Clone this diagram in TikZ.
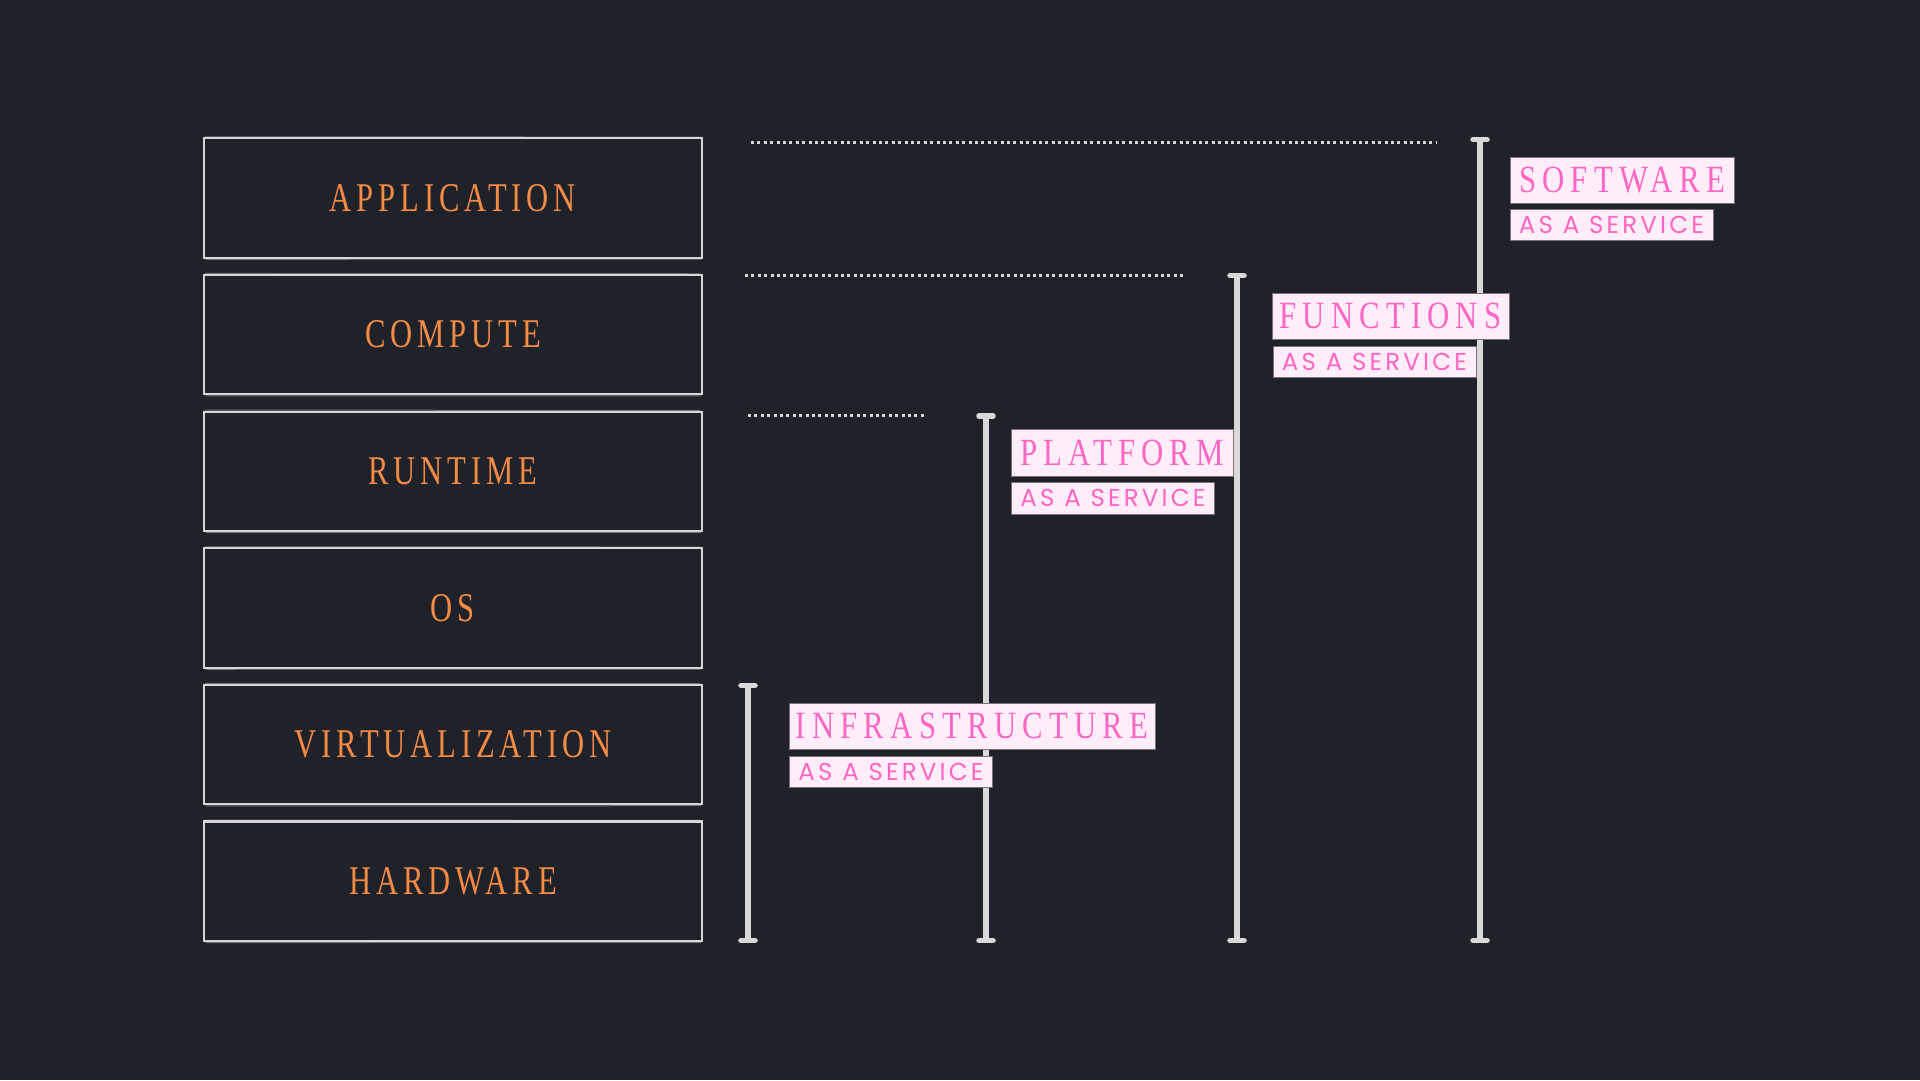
\documentclass[tikz,border=0pt]{standalone}
\usepackage{fontspec}
\newfontfamily\layerfont[FakeStretch=0.75,LetterSpace=12]{Liberation Serif}
\newfontfamily\labelfont[FakeStretch=0.8,LetterSpace=16]{Liberation Serif}
\newfontfamily\subfont[LetterSpace=13]{Poppins}
\definecolor{bg}{HTML}{202229}
\definecolor{layertext}{HTML}{F68B46}
\definecolor{sketch}{HTML}{D6D6D6}
\definecolor{barcol}{HTML}{D9D9D9}
\definecolor{pinktext}{HTML}{FF66C4}
\definecolor{pinkfill}{HTML}{FFEEF9}
\definecolor{pinkborder}{HTML}{7A707C}
\tikzset{
  layer/.style={minimum width=498pt, minimum height=119pt, inner sep=0pt,
    text=layertext, font=\layerfont\fontsize{40.8}{41}\selectfont},
  sketchline/.style={draw=sketch, line width=2.2pt},
  sketchfaint/.style={draw=sketch, line width=1pt, opacity=0.45},
  mainlabel/.style={fill=pinkfill, draw=pinkborder, line width=0.9pt, inner sep=0pt,
    minimum height=46pt, text=pinktext, font=\labelfont\fontsize{38.5}{39}\selectfont},
  sublabel/.style={fill=pinkfill, draw=pinkborder, line width=0.9pt, inner sep=0pt,
    minimum height=31pt, minimum width=203pt, text=pinktext, font=\subfont\fontsize{24.5}{25}\selectfont},
  stem/.style={draw=barcol, line width=5.5pt},
  barcap/.style={draw=barcol, line width=5.5pt, line cap=round},
  dots/.style={draw=barcol, line width=3pt, dash pattern=on 3pt off 3.4pt}
}
\begin{document}
\begin{tikzpicture}[x=1pt,y=-1pt]
\fill[bg] (0,0) rectangle (1920,1080);
\useasboundingbox (0,0) rectangle (1920,1080);

% layers
\foreach \name/\txt/\i in {app/APPLICATION/0, comp/COMPUTE/1, run/RUNTIME/2, os/OS/3, virt/VIRTUALIZATION/4, hw/HARDWARE/5}{
  \node[layer] (\name) at (453, {198 + 136.65*\i}) {\txt};
  \draw[sketchline] (\name.north west) rectangle (\name.south east);
  \draw[sketchfaint] ([shift={(1.2pt,1.5pt)}]\name.north west) -- ([shift={(-2pt,1.2pt)}]\name.north east);
  \draw[sketchfaint] ([shift={(2pt,-1.6pt)}]\name.south west) -- ([shift={(-1pt,-1.4pt)}]\name.south east);
}

% dotted guide lines
\coordinate (d1a) at (751,142);  \coordinate (d1b) at (1437,142);
\coordinate (d2a) at (745,275);  \coordinate (d2b) at (1185,275);
\coordinate (d3a) at (748,415.5);\coordinate (d3b) at (926,415.5);
\draw[dots] (d1a) -- (d1b);
\draw[dots] (d2a) -- (d2b);
\draw[dots] (d3a) -- (d3b);

% bars
\foreach \b/\x/\top in {iaas/748/685.5, paas/986/416, faas/1237/275.5, saas/1480/139.5}{
  \coordinate (\b T) at (\x,\top);
  \coordinate (\b B) at (\x,940.5);
  \draw[stem] (\b T) -- (\b B);
  \draw[barcap] ([xshift=-7pt]\b T) -- ([xshift=7pt]\b T);
  \draw[barcap] ([xshift=-7pt]\b B) -- ([xshift=7pt]\b B);
}

% labels
\node[mainlabel, minimum width=224pt] (saas) at (1622,180) {SOFTWARE};
\node[sublabel] (saasS) at (1611.5,224.5) {AS A SERVICE};
\node[mainlabel, minimum width=237pt] (faas) at (1390.5,316) {FUNCTIONS};
\node[sublabel] (faasS) at (1374.5,361.5) {AS A SERVICE};
\node[mainlabel, minimum width=222pt, minimum height=47pt] (paas) at (1122,452.5) {PLATFORM};
\node[sublabel, minimum height=32pt] (paasS) at (1113,498) {AS A SERVICE};
\node[mainlabel, minimum width=366pt] (iaas) at (972,726) {INFRASTRUCTURE};
\node[sublabel] (iaasS) at (891,771.5) {AS A SERVICE};
\end{tikzpicture}
\end{document}
